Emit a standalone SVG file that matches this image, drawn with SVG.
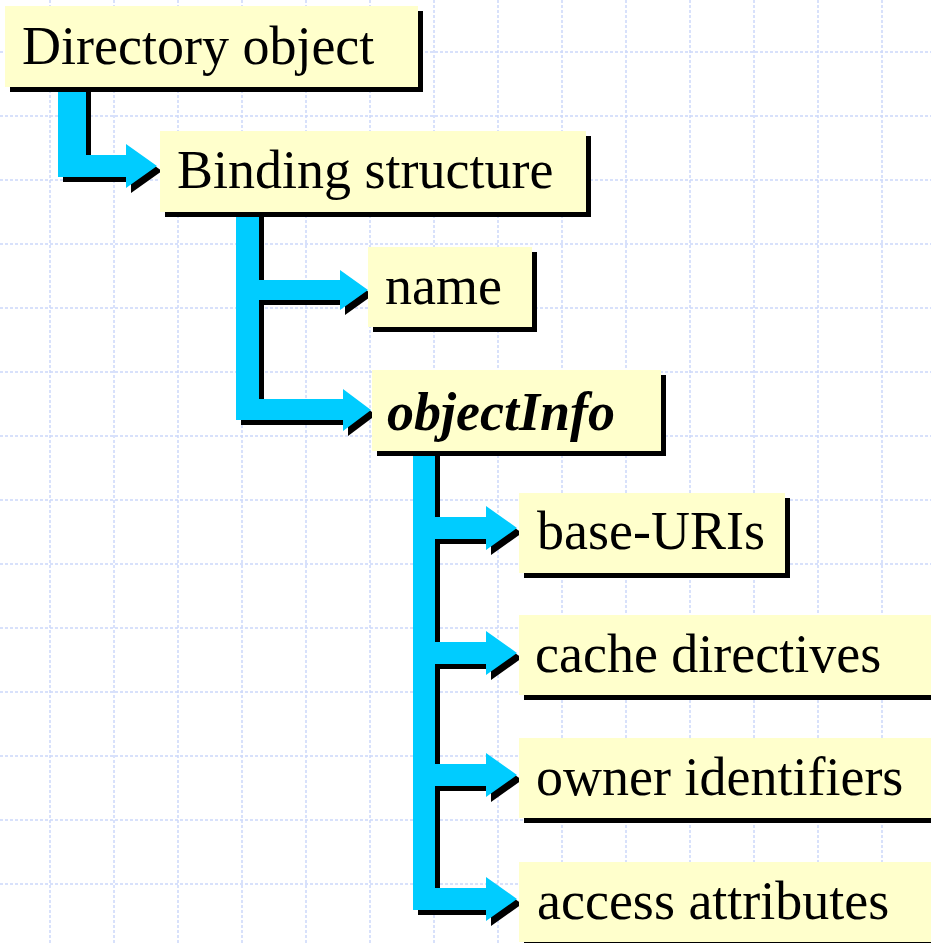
<svg xmlns="http://www.w3.org/2000/svg" width="931" height="943" viewBox="0 0 931 943">
<style>
.grid line{stroke:#ccd8fa;stroke-width:1.5;stroke-dasharray:3 2}
.box{fill:#ffffcc}
.sh{fill:#000}
.arr{fill:#00ccff}
.t{font-family:"Liberation Serif","Times New Roman",serif;font-size:54px;fill:#000}
.bi{font-weight:bold;font-style:italic}
</style>
<rect width="931" height="943" fill="#fff"/>
<g class="grid">
<line x1="50" y1="0" x2="50" y2="943"/><line x1="114" y1="0" x2="114" y2="943"/><line x1="178" y1="0" x2="178" y2="943"/><line x1="242" y1="0" x2="242" y2="943"/><line x1="306" y1="0" x2="306" y2="943"/><line x1="370" y1="0" x2="370" y2="943"/><line x1="434" y1="0" x2="434" y2="943"/><line x1="498" y1="0" x2="498" y2="943"/><line x1="562" y1="0" x2="562" y2="943"/><line x1="626" y1="0" x2="626" y2="943"/><line x1="690" y1="0" x2="690" y2="943"/><line x1="754" y1="0" x2="754" y2="943"/><line x1="818" y1="0" x2="818" y2="943"/><line x1="882" y1="0" x2="882" y2="943"/>
<line x1="0" y1="52" x2="931" y2="52"/><line x1="0" y1="116" x2="931" y2="116"/><line x1="0" y1="180" x2="931" y2="180"/><line x1="0" y1="244" x2="931" y2="244"/><line x1="0" y1="308" x2="931" y2="308"/><line x1="0" y1="372" x2="931" y2="372"/><line x1="0" y1="436" x2="931" y2="436"/><line x1="0" y1="500" x2="931" y2="500"/><line x1="0" y1="564" x2="931" y2="564"/><line x1="0" y1="628" x2="931" y2="628"/><line x1="0" y1="692" x2="931" y2="692"/><line x1="0" y1="756" x2="931" y2="756"/><line x1="0" y1="820" x2="931" y2="820"/><line x1="0" y1="884" x2="931" y2="884"/>
</g>
<defs>
<path id="c1" d="M58,87 H86 V155 H126 V144 L157,166 L126,188 V177 H58 Z"/>
<path id="c2" d="M236,212 H259 V280 H340 V270 L368,290 L340,310 V300 H259 V399 H343 V389 L371,410 L343,431 V420 H236 Z"/>
<path id="c3" d="M413,451 H435 V517 H486 V506 L517,528 L486,550 V539 H435 V642 H486 V631 L517,653 L486,675 V664 H435 V764 H486 V753 L517,775 L486,797 V786 H435 V888 H486 V877 L517,899 L486,921 V910 H413 Z"/>
</defs>
<g id="connectors">
<use href="#c1" class="sh" x="5" y="5"/><use href="#c1" class="arr"/>
<use href="#c2" class="sh" x="5" y="5"/><use href="#c2" class="arr"/>
<use href="#c3" class="sh" x="5" y="5"/><use href="#c3" class="arr"/>
</g>
<g id="n-directory"><rect class="sh" x="10" y="11" width="413" height="81"/><rect class="box" x="5" y="6" width="413" height="81"/><text class="t" x="22" y="64">Directory object</text></g>
<g id="n-binding"><rect class="sh" x="165" y="136" width="426" height="81"/><rect class="box" x="160" y="131" width="426" height="81"/><text class="t" x="177" y="188">Binding structure</text></g>
<g id="n-name"><rect class="sh" x="373" y="252" width="164" height="80"/><rect class="box" x="368" y="247" width="164" height="80"/><text class="t" x="385" y="304">name</text></g>
<g id="n-objectinfo"><rect class="sh" x="377" y="375" width="289" height="81"/><rect class="box" x="372" y="370" width="289" height="81"/><text class="t bi" x="387" y="430">objectInfo</text></g>
<g id="n-baseuris"><rect class="sh" x="524" y="498" width="266" height="80"/><rect class="box" x="519" y="493" width="266" height="80"/><text class="t" x="537" y="549">base-URIs</text></g>
<g id="n-cache"><rect class="sh" x="524" y="620" width="420" height="80"/><rect class="box" x="519" y="615" width="420" height="80"/><text class="t" x="535" y="672">cache directives</text></g>
<g id="n-owner"><rect class="sh" x="524" y="743" width="420" height="80"/><rect class="box" x="519" y="738" width="420" height="80"/><text class="t" x="536" y="795">owner identifiers</text></g>
<g id="n-access"><rect class="sh" x="524" y="867" width="420" height="80"/><rect class="box" x="519" y="862" width="420" height="80"/><text class="t" x="537" y="919">access attributes</text></g>
</svg>
